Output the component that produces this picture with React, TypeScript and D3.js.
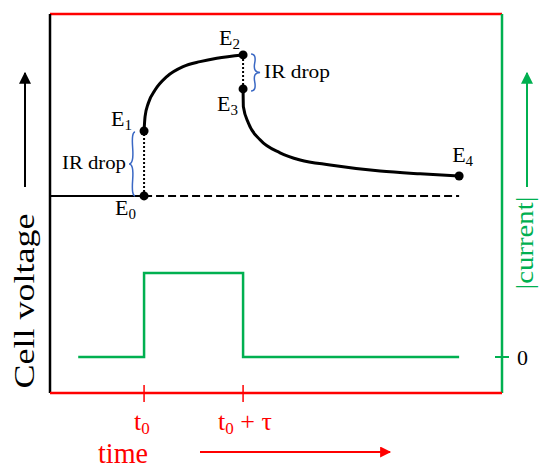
import React from 'react';
import * as d3 from 'd3';

// charging branch E1 -> E2 (time units, volts)
const chargeTime = [2.0, 2.02, 2.087, 2.222, 2.459, 2.788, 3.131, 3.469, 4.0];
const chargeVolt = [1.3, 1.366, 1.429, 1.489, 1.551, 1.597, 1.62, 1.636, 1.651];

// relaxation branch E3 -> E4
const relaxTime = [4.0, 4.006, 4.107, 4.343, 4.747, 5.152, 5.758, 6.768, 7.576, 8.364];
const relaxVolt = [1.494, 1.412, 1.337, 1.259, 1.199, 1.166, 1.143, 1.115, 1.102, 1.092];

// current pulse
const pulseTime = [0.67, 2.0, 2.0, 4.0, 4.0, 8.364];
const pulseCurrent = [0, 0, 1, 1, 0, 0];

// labelled points
const pointNames = ['0', '1', '2', '3', '4'];
const pointTime = [2.0, 2.0, 4.0, 4.0, 8.364];
const pointVolt = [1.0, 1.3, 1.651, 1.494, 1.092];

const T0 = 2.0;
const TAU = 2.0;
const V_REST = 1.0;

const RED = '#ff0000';
const GREEN = '#00b050';
const BLUE = '#3a68c4';
const FONT = "'Liberation Serif', 'Times New Roman', serif";

const W = 550;
const H = 474;

const x = d3.scaleLinear().domain([0.1, 9.23]).range([50, 502]);
const y = d3.scaleLinear().domain([0.09, 1.84]).range([393, 14]);
const yCur = d3.scaleLinear().domain([0, 1]).range([357, 273]);

function pathOf(ts: number[], vs: number[]) {
  return d3
    .line<number>()
    .x((t) => x(t))
    .y((_, i) => y(vs[i]))
    .curve(d3.curveMonotoneX)(ts) as string;
}

// curly brace between (x1,y1) and (x2,y2), w = width of the tip
function brace(x1: number, y1: number, x2: number, y2: number, w: number, q = 0.6) {
  let dx = x1 - x2;
  let dy = y1 - y2;
  const len = Math.sqrt(dx * dx + dy * dy);
  dx /= len;
  dy /= len;
  const qx1 = x1 + q * w * dy;
  const qy1 = y1 - q * w * dx;
  const qx2 = x1 - 0.25 * len * dx + (1 - q) * w * dy;
  const qy2 = y1 - 0.25 * len * dy - (1 - q) * w * dx;
  const tx = x1 - 0.5 * len * dx + w * dy;
  const ty = y1 - 0.5 * len * dy - w * dx;
  const qx3 = x2 + q * w * dy;
  const qy3 = y2 - q * w * dx;
  const qx4 = x1 - 0.75 * len * dx + (1 - q) * w * dy;
  const qy4 = y1 - 0.75 * len * dy - (1 - q) * w * dx;
  return `M${x1},${y1}Q${qx1},${qy1} ${qx2},${qy2}T${tx},${ty}M${x2},${y2}Q${qx3},${qy3} ${qx4},${qy4}T${tx},${ty}`;
}

// label offsets from each point
const labelDx = [-29, -33, -24, -26, -7];
const labelDy = [19, -5, -10, 22, -14];

const Sub = ({ children, size = 15 }: { children: React.ReactNode; size?: number }) => (
  <tspan fontSize={size} dy="4">
    {children}
  </tspan>
);

export default function App() {
  const currentPath = d3
    .line<number>()
    .x((t) => x(t))
    .y((_, i) => yCur(pulseCurrent[i]))(pulseTime) as string;

  const xT0 = x(T0);
  const xT1 = x(T0 + TAU);

  return (
    <svg width={W} height={H} style={{ display: 'block', margin: '-8px', fontFamily: FONT }}>
      <defs>
        <marker id="headBlack" viewBox="0 0 10 10" refX="9" refY="5" markerWidth="12" markerHeight="12" markerUnits="userSpaceOnUse" orient="auto">
          <path d="M0,0L10,5L0,10z" fill="#000" />
        </marker>
        <marker id="headGreen" viewBox="0 0 10 10" refX="9" refY="5" markerWidth="12" markerHeight="12" markerUnits="userSpaceOnUse" orient="auto">
          <path d="M0,0L10,5L0,10z" fill={GREEN} />
        </marker>
        <marker id="headRed" viewBox="0 0 10 10" refX="9" refY="5" markerWidth="12" markerHeight="11" markerUnits="userSpaceOnUse" orient="auto">
          <path d="M0,0L10,5L0,10z" fill={RED} />
        </marker>
      </defs>

      {/* frame */}
      <line x1={50} x2={502} y1={14} y2={14} stroke={RED} strokeWidth={2.5} />
      <line x1={50} x2={50} y1={14} y2={393} stroke="#000" strokeWidth={2.5} />
      <line x1={502} x2={502} y1={14} y2={393} stroke={GREEN} strokeWidth={2.5} />
      <line x1={50} x2={502} y1={393} y2={393} stroke={RED} strokeWidth={2.5} />

      {/* time ticks */}
      {[T0, T0 + TAU].map((t) => (
        <line key={t} x1={x(t)} x2={x(t)} y1={385} y2={402} stroke={RED} strokeWidth={1.5} />
      ))}
      <text x={xT0 - 10} y={430} fill={RED} fontSize="26">
        t<Sub size={17}>0</Sub>
      </text>
      <text x={xT1 - 25} y={430} fill={RED} fontSize="26">
        t<Sub size={17}>0</Sub>
        <tspan dy="-4"> + τ</tspan>
      </text>
      <text x={98} y={463} fill={RED} fontSize="29" textLength={50} lengthAdjust="spacingAndGlyphs">
        time
      </text>
      <line x1={200} x2={390} y1={452} y2={452} stroke={RED} strokeWidth={2} markerEnd="url(#headRed)" />

      {/* left axis title */}
      <g transform="translate(34,301) rotate(-90)">
        <text textAnchor="middle" fontSize="29" textLength={175} lengthAdjust="spacingAndGlyphs" fill="#000">
          Cell voltage
        </text>
      </g>
      <line x1={25} x2={25} y1={187} y2={73} stroke="#000" strokeWidth={2} markerEnd="url(#headBlack)" />

      {/* right axis */}
      <line x1={495} x2={509} y1={yCur(0)} y2={yCur(0)} stroke={GREEN} strokeWidth={2} />
      <text x={517} y={365} fontSize="22" fill="#000">
        0
      </text>
      <g transform="translate(533,243) rotate(-90)">
        <text textAnchor="middle" fontSize="25" textLength={93} lengthAdjust="spacingAndGlyphs" fill={GREEN}>
          |current|
        </text>
      </g>
      <line x1={527} x2={527} y1={187} y2={73} stroke={GREEN} strokeWidth={2} markerEnd="url(#headGreen)" />

      {/* current pulse */}
      <path d={currentPath} fill="none" stroke={GREEN} strokeWidth={2.5} />

      {/* rest voltage line */}
      <line x1={50} x2={xT0} y1={y(V_REST)} y2={y(V_REST)} stroke="#000" strokeWidth={2} />
      <line x1={xT0} x2={x(pointTime[4])} y1={y(V_REST)} y2={y(V_REST)} stroke="#000" strokeWidth={2} strokeDasharray="8,4" />

      {/* IR drop dotted lines */}
      <line x1={xT0} x2={xT0} y1={y(pointVolt[0])} y2={y(pointVolt[1])} stroke="#000" strokeWidth={2} strokeDasharray="2,2" />
      <line x1={xT1} x2={xT1} y1={y(pointVolt[2])} y2={y(pointVolt[3])} stroke="#000" strokeWidth={2} strokeDasharray="2,2" />

      {/* voltage curves */}
      <path d={pathOf(chargeTime, chargeVolt)} fill="none" stroke="#000" strokeWidth={3} />
      <path d={pathOf(relaxTime, relaxVolt)} fill="none" stroke="#000" strokeWidth={3} />

      {/* braces */}
      <path d={brace(xT0 - 9, y(pointVolt[1]) + 1, xT0 - 9, y(pointVolt[0]), 6)} fill="none" stroke={BLUE} strokeWidth={1.5} />
      <text x={62} y={169} fontSize="19" textLength={64} lengthAdjust="spacingAndGlyphs" fill="#000">
        IR drop
      </text>
      <path d={brace(xT1 + 8, y(pointVolt[2]) - 1, xT1 + 8, y(pointVolt[3]) + 2, -9)} fill="none" stroke={BLUE} strokeWidth={1.5} />
      <text x={264} y={78} fontSize="19" textLength={66} lengthAdjust="spacingAndGlyphs" fill="#000">
        IR drop
      </text>

      {/* points and labels */}
      {pointNames.map((n, i) => (
        <g key={n}>
          <circle cx={x(pointTime[i])} cy={y(pointVolt[i])} r={4.5} fill="#000" />
          <text x={x(pointTime[i]) + labelDx[i]} y={y(pointVolt[i]) + labelDy[i]} fontSize="22" fill="#000">
            E<Sub>{n}</Sub>
          </text>
        </g>
      ))}
    </svg>
  );
}
